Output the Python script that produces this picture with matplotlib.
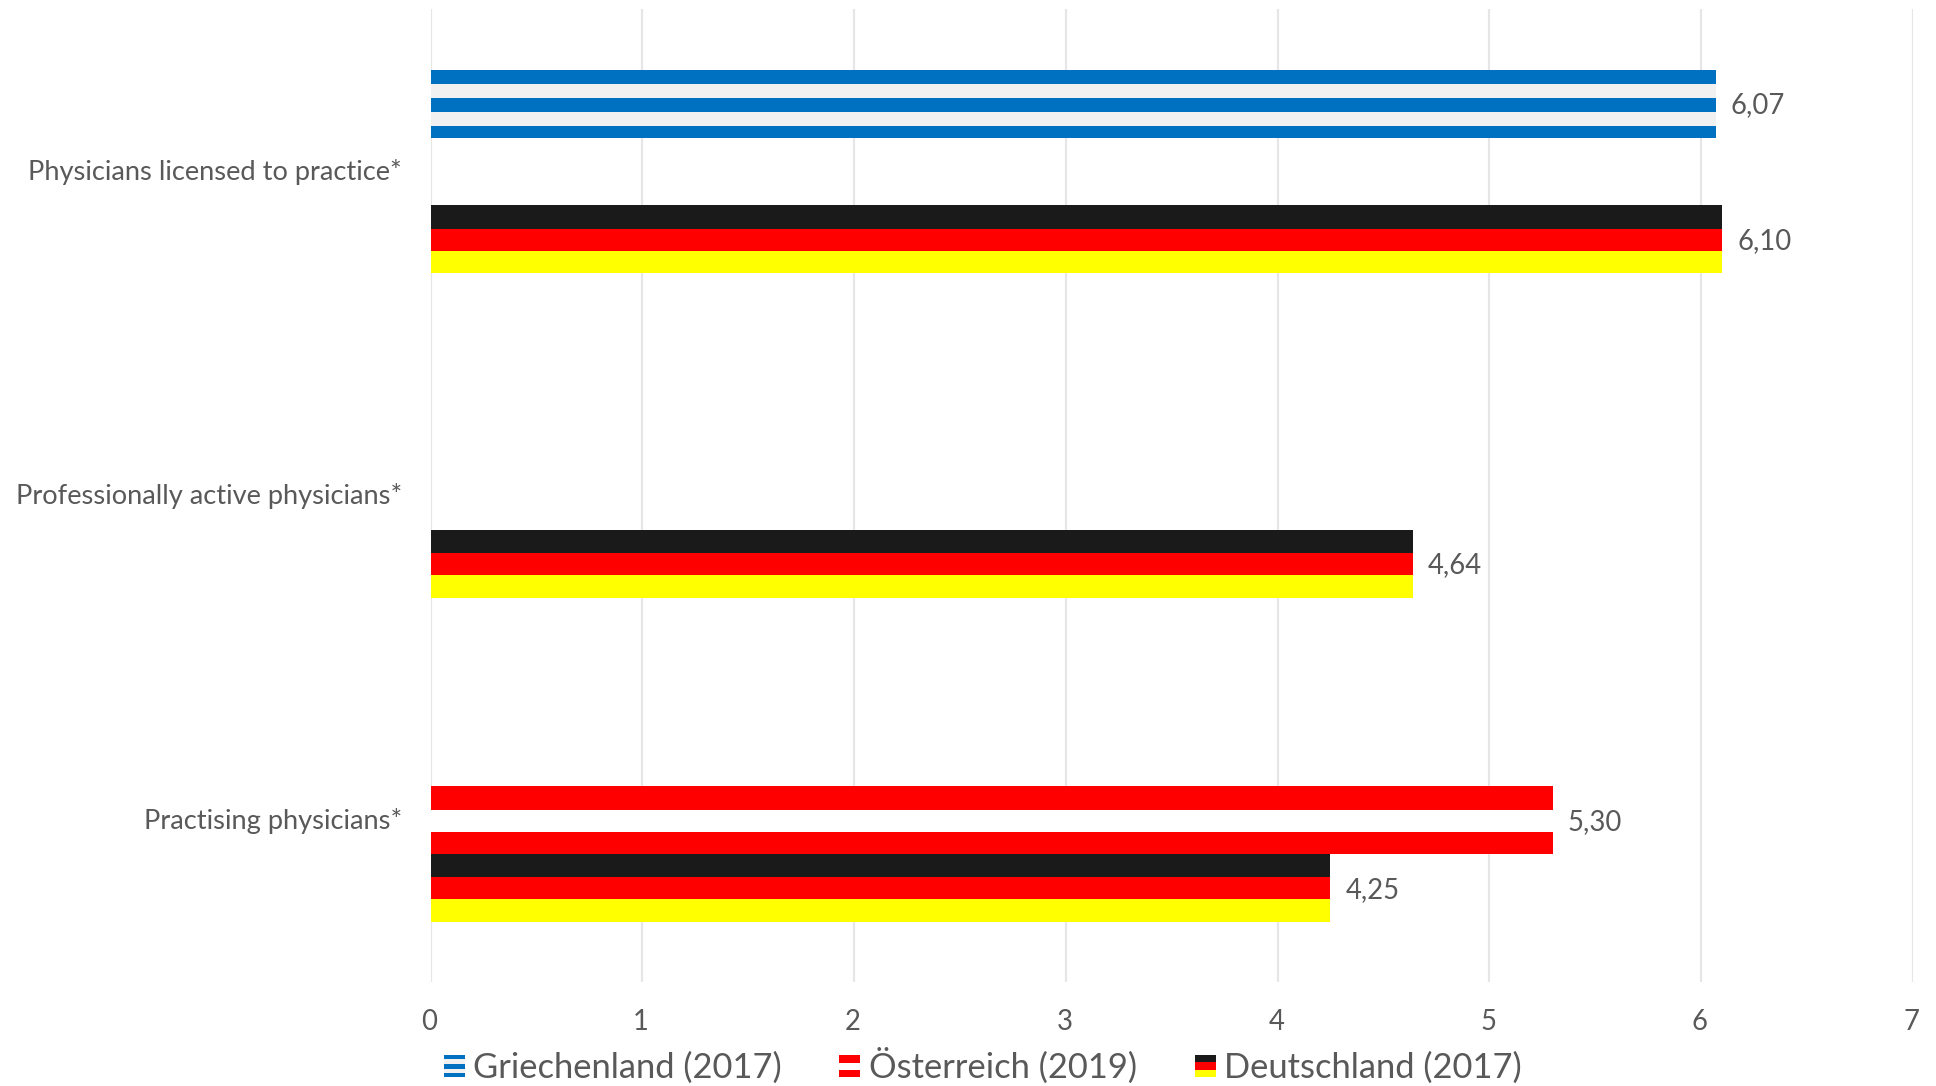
import math
import matplotlib
matplotlib.use("Agg")
import matplotlib.pyplot as plt
from matplotlib.legend_handler import HandlerBase
from matplotlib.patches import Rectangle
from matplotlib.transforms import ScaledTranslation

plt.rcParams['font.family'] = ['Lato', 'DejaVu Sans']

categories = ["Physicians licensed to practice*", "Professionally active physicians*", "Practising physicians*"]
griechenland = [6.07, math.nan, math.nan]
oesterreich = [math.nan, math.nan, 5.30]
deutschland = [6.10, 4.64, 4.25]
series_names = ["Griechenland (2017)", "Österreich (2019)", "Deutschland (2017)"]
x_ticks = [0, 1, 2, 3, 4, 5, 6, 7]

TEXT = "#595959"
BLUE, PALE, RED, WHITE, BLACK, YELLOW = "#0070C0", "#F1F1F1", "#FF0000", "#FFFFFF", "#1A1A1A", "#FFFF00"
# stripes: (start fraction, end fraction, colour) from the top of a bar
STRIPES = [
    [(0, .206, BLUE), (.206, .426, PALE), (.426, .618, BLUE), (.618, .824, PALE), (.824, 1, BLUE)],
    [(0, .353, RED), (.353, .68, WHITE), (.68, 1, RED)],
    [(0, .345, BLACK), (.345, .67, RED), (.67, 1, YELLOW)],
]
BAR = 0.2097

W, H = 1936, 1086
fig = plt.figure(figsize=(W / 100, H / 100), dpi=100, facecolor="white")
ax = fig.add_axes([430.7 / W, 1 - 982 / H, (1912 - 430) / W, (982 - 9.4) / H])
ax.set_xlim(0, 7)
ax.set_ylim(2.5, -0.5)

for i, values in enumerate([griechenland, oesterreich, deutschland]):
    for j, v in enumerate(values):
        if math.isnan(v):
            continue
        top = j + (i - 1) * BAR - BAR / 2
        for a, b, c in STRIPES[i]:
            ax.barh(top + BAR * (a + b) / 2, v, height=BAR * (b - a), color=c, linewidth=0, zorder=3)
        ax.annotate(f"{v:.2f}".replace(".", ","), (v, j + (i - 1) * BAR), xytext=(10.8, -1.2),
                    textcoords="offset points", ha="left", va="center", fontsize=19.8, color=TEXT)

ax.set_xticks(x_ticks)
ax.set_yticks(range(len(categories)))
ax.set_yticklabels(categories)
ax.grid(axis="x", color="#E6E6E6", linewidth=1.6, zorder=1)
ax.set_axisbelow(True)
ax.tick_params(axis="x", length=0, pad=19.5, labelsize=19.8, labelcolor=TEXT)
ax.tick_params(axis="y", length=0, pad=20.7, labelsize=19.65, labelcolor=TEXT)
for s in ax.spines.values():
    s.set_visible(False)
shift_up = ScaledTranslation(0, 1.3 / 72, fig.dpi_scale_trans)
for lab in ax.get_yticklabels():
    lab.set_transform(lab.get_transform() + shift_up)
shift_left = ScaledTranslation(-0.9 / 72, 0, fig.dpi_scale_trans)
for lab in ax.get_xticklabels():
    lab.set_transform(lab.get_transform() + shift_left)


class StripeHandler(HandlerBase):
    def __init__(self, stripes):
        super().__init__()
        self.stripes = stripes

    def create_artists(self, legend, orig_handle, xdescent, ydescent, width, height, fontsize, trans):
        out = []
        for a, b, c in self.stripes:
            out.append(Rectangle((-xdescent, -ydescent + height * (1 - b)), width, height * (b - a),
                                 facecolor=c, linewidth=0, transform=trans))
        return out


handles = [Rectangle((0, 0), 1, 1) for _ in series_names]
leg = fig.legend(handles, series_names, ncol=3, frameon=False, fontsize=24.8, labelcolor=TEXT,
                 loc="center", bbox_to_anchor=(982.5 / W, 1 - 1066 / H),
                 handler_map={h: StripeHandler(s) for h, s in zip(handles, STRIPES)},
                 handlelength=0.61, handleheight=0.64, handletextpad=0.24, columnspacing=1.68,
                 borderpad=0, borderaxespad=0)

fig.savefig("out.png", dpi=100, facecolor="white")
